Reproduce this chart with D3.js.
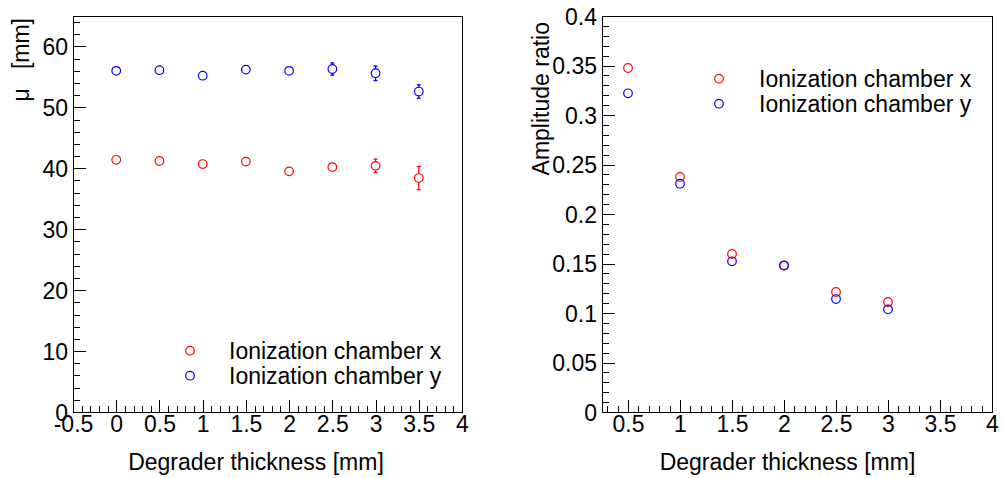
<!DOCTYPE html>
<html>
<head>
<meta charset="utf-8">
<script src="https://cdn.jsdelivr.net/npm/d3@7"></script>
<style>
  html, body { margin: 0; padding: 0; background: #fff; }
  svg { display: block; }
  text { font-family: "Liberation Sans", Arial, Helvetica, sans-serif; fill: #000; }
</style>
</head>
<body>
<svg id="chart" width="1003" height="478"></svg>
<script>
// ---------------- data ----------------
const thicknessLeft = [0, 0.5, 1, 1.5, 2, 2.5, 3, 3.5];
const muX = [41.4, 41.2, 40.7, 41.1, 39.5, 40.2, 40.4, 38.4];
const muXErr = [0.3, 0.3, 0.3, 0.3, 0.3, 0.5, 1.1, 1.9];
const muY = [56.0, 56.1, 55.2, 56.2, 56.0, 56.3, 55.6, 52.6];
const muYErr = [0.3, 0.3, 0.3, 0.3, 0.3, 1.0, 1.2, 1.1];

const thicknessRight = [0.5, 1, 1.5, 2, 2.5, 3];
const ampX = [0.3475, 0.2374, 0.1596, 0.1478, 0.1212, 0.1111];
const ampY = [0.3219, 0.2306, 0.1522, 0.1482, 0.1141, 0.1037];

const xTicksLeft = [-0.5, 0, 0.5, 1, 1.5, 2, 2.5, 3, 3.5, 4];
const yTicksLeft = [0, 10, 20, 30, 40, 50, 60];
const xTicksRight = [0.5, 1, 1.5, 2, 2.5, 3, 3.5, 4];
const yTicksRight = [0, 0.05, 0.1, 0.15, 0.2, 0.25, 0.3, 0.35, 0.4];

const seriesNames = ["Ionization chamber x", "Ionization chamber y"];
const seriesColors = ["#ff0000", "#0000ff"];
const xTitle = "Degrader thickness [mm]";
const yTitleLeft = "\u03BC   [mm]";
const yTitleRight = "Amplitude ratio";

// ---------------- drawing ----------------
const svg = d3.select("#chart");
const FONT = 23;
const R = 4.3;

function fmt(v) { return String(+v.toFixed(3)).replace("\u2212", "-"); }

function range(a, b, s) {
  const out = [];
  const n = Math.round((b - a) / s);
  for (let i = 0; i <= n; i++) out.push(+(a + i * s).toFixed(6));
  return out;
}

function panel(opts) {
  const g = svg.append("g");
  const x = d3.scaleLinear().domain(opts.xDomain).range([opts.left, opts.right]);
  const y = d3.scaleLinear().domain(opts.yDomain).range([opts.bottom, opts.top]);

  // minor ticks x
  g.append("g").attr("transform", `translate(0,${opts.bottom})`)
    .call(d3.axisBottom(x).tickValues(opts.xMinor).tickSize(-6).tickFormat(""))
    .call(a => a.select(".domain").remove())
    .call(a => a.selectAll("line").attr("stroke", "#000").attr("shape-rendering", "crispEdges"));
  // major ticks x
  g.append("g").attr("transform", `translate(0,${opts.bottom})`)
    .call(d3.axisBottom(x).tickValues(opts.xTicks).tickSize(-12).tickPadding(4).tickFormat(fmt))
    .call(a => a.select(".domain").remove())
    .call(a => a.selectAll("line").attr("stroke", "#000").attr("shape-rendering", "crispEdges"))
    .call(a => a.selectAll("text").attr("font-size", FONT).attr("font-family", "Liberation Sans, Arial, sans-serif").attr("fill", "#000"));

  // minor ticks y
  g.append("g").attr("transform", `translate(${opts.left},0)`)
    .call(d3.axisLeft(y).tickValues(opts.yMinor).tickSize(-7).tickFormat(""))
    .call(a => a.select(".domain").remove())
    .call(a => a.selectAll("line").attr("stroke", "#000").attr("shape-rendering", "crispEdges"));
  // major ticks y
  g.append("g").attr("transform", `translate(${opts.left},0)`)
    .call(d3.axisLeft(y).tickValues(opts.yTicks).tickSize(-13).tickPadding(5).tickFormat(fmt))
    .call(a => a.select(".domain").remove())
    .call(a => a.selectAll("line").attr("stroke", "#000").attr("shape-rendering", "crispEdges"))
    .call(a => a.selectAll("text").attr("font-size", FONT).attr("font-family", "Liberation Sans, Arial, sans-serif").attr("fill", "#000").attr("dy", "0.35em"));

  // frame
  g.append("rect")
    .attr("x", opts.left + 0.5).attr("y", opts.top + 0.5)
    .attr("width", opts.right - opts.left).attr("height", opts.bottom - opts.top)
    .attr("fill", "none").attr("stroke", "#000").attr("stroke-width", 1);

  // titles
  g.append("text").attr("x", opts.xTitleX).attr("y", 470)
    .attr("text-anchor", "middle").attr("font-size", FONT).text(xTitle);
  g.append("text")
    .attr("transform", `translate(${opts.yTitleX},${opts.yTitleEnd}) rotate(-90)`)
    .attr("text-anchor", "end").attr("font-size", FONT)
    .attr("xml:space", "preserve").style("white-space", "pre")
    .text(opts.yTitle);

  // data
  opts.series.forEach((s, i) => {
    const sg = g.append("g");
    const pts = opts.xs.map((xv, j) => ({ x: xv, y: s.values[j], e: s.errors ? s.errors[j] : 0 }));
    // error bars (drawn outside the marker, ROOT style)
    pts.forEach(p => {
      const cx = x(p.x), cy = y(p.y);
      const ePx = Math.abs(y(p.y + p.e) - cy);
      if (ePx > R + 0.5) {
        [[cy - R, cy - ePx], [cy + R, cy + ePx]].forEach(([a, b]) => {
          sg.append("line").attr("x1", cx).attr("x2", cx).attr("y1", a).attr("y2", b)
            .attr("stroke", seriesColors[i]).attr("stroke-width", 1.3);
          sg.append("line").attr("x1", cx - 2).attr("x2", cx + 2).attr("y1", b).attr("y2", b)
            .attr("stroke", seriesColors[i]).attr("stroke-width", 1.3);
        });
      }
    });
    sg.selectAll("circle").data(pts).join("circle")
      .attr("cx", p => x(p.x)).attr("cy", p => y(p.y)).attr("r", R)
      .attr("fill", "none").attr("stroke", seriesColors[i]).attr("stroke-width", 1.2);
  });

  // legend
  seriesNames.forEach((name, i) => {
    const ly = opts.legendY + i * 25;
    g.append("circle").attr("cx", opts.legendMarkerX).attr("cy", ly).attr("r", R)
      .attr("fill", "none").attr("stroke", seriesColors[i]).attr("stroke-width", 1.2);
    g.append("text").attr("x", opts.legendTextX).attr("y", ly + 8)
      .attr("font-size", FONT).text(name);
  });
}

panel({
  left: 73, right: 462, top: 16, bottom: 412,
  xDomain: [-0.5, 4], yDomain: [0, 65],
  xTicks: xTicksLeft, xMinor: range(-0.5, 4, 0.1),
  yTicks: yTicksLeft, yMinor: range(0, 64, 2),
  xs: thicknessLeft,
  series: [{ values: muX, errors: muXErr }, { values: muY, errors: muYErr }],
  xTitleX: 256, yTitleX: 29, yTitleEnd: 18, yTitle: yTitleLeft,
  legendMarkerX: 190, legendTextX: 229, legendY: 350.7
});

panel({
  left: 602, right: 992, top: 16, bottom: 412,
  xDomain: [0.25, 4], yDomain: [0, 0.4],
  xTicks: xTicksRight, xMinor: range(0.3, 4, 0.1),
  yTicks: yTicksRight, yMinor: range(0, 0.4, 0.01),
  xs: thicknessRight,
  series: [{ values: ampX }, { values: ampY }],
  xTitleX: 787.5, yTitleX: 549, yTitleEnd: 22, yTitle: yTitleRight,
  legendMarkerX: 719, legendTextX: 759, legendY: 78.7
});
</script>
</body>
</html>
